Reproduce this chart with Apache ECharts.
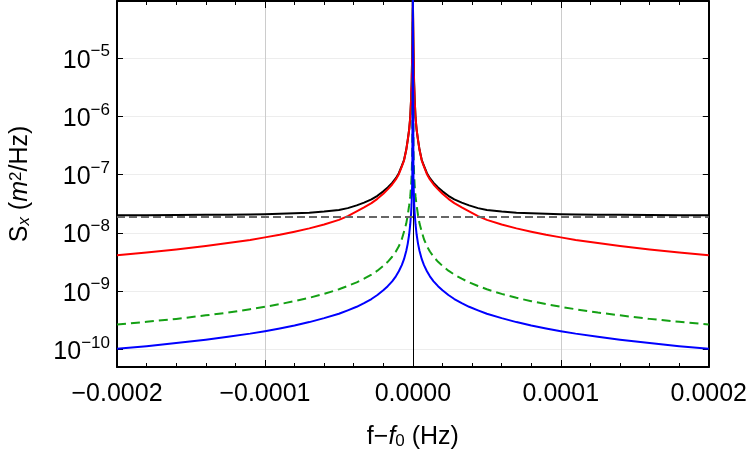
<!DOCTYPE html>
<html>
<head>
<meta charset="utf-8">
<script src="https://cdn.jsdelivr.net/npm/echarts@6/dist/echarts.min.js"></script>
<style>
	html, body { margin: 0; padding: 0; background: #fff; }
	#chart { width: 750px; height: 455px; }
</style>
</head>
<body>
<div id="chart"></div>
<script>
// f - f0 (Hz)
var freq = [
	-2e-4, -1.8e-4, -1.6e-4, -1.4e-4, -1.25e-4, -1.1e-4, -1e-4, -9e-5, -8e-5, -7e-5, -6e-5, -5e-5, -4.4e-5, -3.8e-5, -3.3e-5, -2.8e-5,
	-2.4e-5, -2e-5, -1.7e-5, -1.4e-5, -1.15e-5, -9.5e-6, -7.5e-6, -6e-6, -4.5e-6, -3.5e-6, -2.5e-6, -1.8e-6, -1.2e-6, -8e-7, -4e-7,
	0,
	4e-7, 8e-7, 1.2e-6, 1.8e-6, 2.5e-6, 3.5e-6, 4.5e-6, 6e-6, 7.5e-6, 9.5e-6, 1.15e-5, 1.4e-5, 1.7e-5, 2e-5, 2.4e-5,
	2.8e-5, 3.3e-5, 3.8e-5, 4.4e-5, 5e-5, 6e-5, 7e-5, 8e-5, 9e-5, 1e-4, 1.1e-4, 1.25e-4, 1.4e-4, 1.6e-4, 1.8e-4, 2e-4];

// S_x (m^2/Hz)
var sBlack = [
	2.01e-8, 2.02e-8, 2.03e-8, 2.05e-8, 2.06e-8, 2.08e-8, 2.1e-8, 2.13e-8, 2.17e-8, 2.23e-8, 2.33e-8, 2.48e-8, 2.67e-8, 2.98e-8, 3.32e-8, 3.77e-8,
	4.35e-8, 5.18e-8, 6.06e-8, 7.24e-8, 8.72e-8, 1.06e-7, 1.42e-7, 1.79e-7, 2.68e-7, 3.93e-7, 6.03e-7, 9.53e-7, 2e-6, 4e-6, 1.5e-5,
	1e-4,
	1.5e-5, 4e-6, 2e-6, 9.53e-7, 6.03e-7, 3.93e-7, 2.68e-7, 1.79e-7, 1.42e-7, 1.06e-7, 8.72e-8, 7.24e-8, 6.06e-8, 5.18e-8, 4.35e-8,
	3.77e-8, 3.32e-8, 2.98e-8, 2.67e-8, 2.48e-8, 2.33e-8, 2.23e-8, 2.17e-8, 2.13e-8, 2.1e-8, 2.08e-8, 2.06e-8, 2.05e-8, 2.03e-8, 2.02e-8, 2.01e-8];
var sRed = [
	4.14e-9, 4.6e-9, 5.2e-9, 5.95e-9, 6.7e-9, 7.6e-9, 8.4e-9, 9.3e-9, 1.05e-8, 1.2e-8, 1.4e-8, 1.68e-8, 1.95e-8, 2.35e-8, 2.75e-8, 3.25e-8,
	3.85e-8, 4.7e-8, 5.6e-8, 6.8e-8, 8.3e-8, 1.02e-7, 1.38e-7, 1.75e-7, 2.65e-7, 3.9e-7, 6e-7, 9.5e-7, 2e-6, 4e-6, 1.5e-5,
	1e-4,
	1.5e-5, 4e-6, 2e-6, 9.5e-7, 6e-7, 3.9e-7, 2.65e-7, 1.75e-7, 1.38e-7, 1.02e-7, 8.3e-8, 6.8e-8, 5.6e-8, 4.7e-8, 3.85e-8,
	3.25e-8, 2.75e-8, 2.35e-8, 1.95e-8, 1.68e-8, 1.4e-8, 1.2e-8, 1.05e-8, 9.3e-9, 8.4e-9, 7.6e-9, 6.7e-9, 5.95e-9, 5.2e-9, 4.6e-9, 4.14e-9];
var sGreen = [
	2.68e-10, 2.98e-10, 3.35e-10, 3.85e-10, 4.3e-10, 4.9e-10, 5.4e-10, 6e-10, 6.75e-10, 7.7e-10, 9e-10, 1.08e-9, 1.23e-9, 1.42e-9, 1.64e-9, 1.93e-9,
	2.25e-9, 2.72e-9, 3.2e-9, 3.9e-9, 4.8e-9, 5.9e-9, 7.8e-9, 1.05e-8, 1.45e-8, 2e-8, 3e-8, 4.2e-8, 6.5e-8, 1.05e-7, 2.5e-7,
	1e-4,
	2.5e-7, 1.05e-7, 6.5e-8, 4.2e-8, 3e-8, 2e-8, 1.45e-8, 1.05e-8, 7.8e-9, 5.9e-9, 4.8e-9, 3.9e-9, 3.2e-9, 2.72e-9, 2.25e-9,
	1.93e-9, 1.64e-9, 1.42e-9, 1.23e-9, 1.08e-9, 9e-10, 7.7e-10, 6.75e-10, 6e-10, 5.4e-10, 4.9e-10, 4.3e-10, 3.85e-10, 3.35e-10, 2.98e-10, 2.68e-10];
var sBlue = [
	1.03e-10, 1.14e-10, 1.29e-10, 1.47e-10, 1.65e-10, 1.87e-10, 2.06e-10, 2.29e-10, 2.58e-10, 2.95e-10, 3.45e-10, 4.1e-10, 4.7e-10, 5.4e-10, 6.25e-10, 7.35e-10,
	8.6e-10, 1.04e-9, 1.22e-9, 1.48e-9, 1.8e-9, 2.2e-9, 2.8e-9, 3.55e-9, 4.9e-9, 6.5e-9, 9.5e-9, 1.4e-8, 2.2e-8, 3.5e-8, 8e-8,
	1e-4,
	8e-8, 3.5e-8, 2.2e-8, 1.4e-8, 9.5e-9, 6.5e-9, 4.9e-9, 3.55e-9, 2.8e-9, 2.2e-9, 1.8e-9, 1.48e-9, 1.22e-9, 1.04e-9, 8.6e-10,
	7.35e-10, 6.25e-10, 5.4e-10, 4.7e-10, 4.1e-10, 3.45e-10, 2.95e-10, 2.58e-10, 2.29e-10, 2.06e-10, 1.87e-10, 1.65e-10, 1.47e-10, 1.29e-10, 1.14e-10, 1.03e-10];

// asymptote horizontale (tirets gris)
var floorFreq = [-2e-4, 2e-4];
var floorLevel = [1.88e-8, 1.88e-8];

var xTicks = [-2e-4, -1e-4, 0, 1e-4, 2e-4];
var yRange = [5e-11, 9.6e-5];

var FONT = '"Liberation Sans", Arial, sans-serif';

function pairs(xs, ys) {
	var out = [];
	for (var i = 0; i < xs.length; i++) {
		out.push([xs[i], ys[i]]);
	}
	return out;
}

function xLabel(v) {
	return v.toFixed(4).replace('-', '\u2212');
}

function yLabel(v) {
	var e = Math.round(Math.log(v) / Math.LN10);
	return '{b|10}{s|' + (e < 0 ? '\u2212' : '') + Math.abs(e) + '}';
}

function line(name, data, color, dash) {
	return {
		name : name,
		type : 'line',
		data : data,
		symbol : 'none',
		clip : true,
		lineStyle : {
			color : color,
			width : 2,
			type : dash ? dash : 'solid',
			join : 'round'
		}
	};
}

var chart = echarts.init(document.getElementById('chart'), null, { renderer : 'canvas' });

var xBase = {
	type : 'value',
	min : xTicks[0],
	max : xTicks[xTicks.length - 1],
	interval : 1e-4,
	axisLine : { show : true, onZero : false, lineStyle : { color : '#000', width : 2 } },
	axisTick : { show : true, inside : true, length : 7, lineStyle : { color : '#000', width : 1 } },
	minorTick : { show : true, splitNumber : 5, length : 4, lineStyle : { color : '#000', width : 1 } }
};

var yBase = {
	type : 'log',
	logBase : 10,
	min : yRange[0],
	max : yRange[1],
	axisLine : { show : true, onZero : false, lineStyle : { color : '#000', width : 2 } },
	axisTick : { show : true, inside : true, length : 6, lineStyle : { color : '#000', width : 1 } }
};

chart.setOption({
	animation : false,
	backgroundColor : '#fff',
	grid : { left : 115, right : 41, top : 1, bottom : 88 },
	xAxis : [ echarts.util.merge({
		position : 'bottom',
		name : 'f\u2212{i|f}{sub|0} (Hz)',
		nameLocation : 'middle',
		nameGap : 58,
		nameTextStyle : {
			fontFamily : FONT, fontSize : 25, color : '#000',
			rich : {
				i : { fontFamily : FONT, fontSize : 25, fontStyle : 'italic', color : '#000' },
				sub : { fontFamily : FONT, fontSize : 17, color : '#000', verticalAlign : 'bottom', lineHeight : 22 }
			}
		},
		axisLabel : { show : true, margin : 15, fontFamily : FONT, fontSize : 25, color : '#000', formatter : xLabel },
		splitLine : { show : true, lineStyle : { color : ['#ccc', '#ccc', '#000', '#ccc', '#ccc'], width : 1 } }
	}, xBase, true), echarts.util.merge({
		position : 'top',
		axisLabel : { show : false },
		splitLine : { show : false }
	}, xBase, true) ],
	yAxis : [ echarts.util.merge({
		position : 'left',
		name : 'S{sub|x} ({i|m}{sup|2}/Hz)',
		nameLocation : 'middle',
		nameGap : 84,
		nameTextStyle : {
			fontFamily : FONT, fontSize : 25, color : '#000',
			rich : {
				sub : { fontFamily : FONT, fontSize : 17, fontStyle : 'italic', color : '#000', verticalAlign : 'bottom', lineHeight : 22 },
				i : { fontFamily : FONT, fontSize : 25, fontStyle : 'italic', color : '#000' },
				sup : { fontFamily : FONT, fontSize : 17, color : '#000', verticalAlign : 'top', lineHeight : 18 }
			}
		},
		axisLabel : {
			show : true, margin : 7, showMinLabel : false, showMaxLabel : false,
			formatter : yLabel,
			rich : {
				b : { fontFamily : FONT, fontSize : 25, color : '#000', verticalAlign : 'bottom', lineHeight : 30 },
				s : { fontFamily : FONT, fontSize : 17, color : '#000', verticalAlign : 'top', lineHeight : 17 }
			}
		},
		splitLine : { show : true, lineStyle : { color : '#ededed', width : 1 } }
	}, yBase, true), echarts.util.merge({
		position : 'right',
		axisLabel : { show : false },
		splitLine : { show : false }
	}, yBase, true) ],
	series : [
		line('black', pairs(freq, sBlack), '#000000'),
		line('red', pairs(freq, sRed), '#ff0000'),
		line('green', pairs(freq, sGreen), '#14a014', [9, 5]),
		line('blue', pairs(freq, sBlue), '#0000ff'),
		line('floor', pairs(floorFreq, floorLevel), '#666666', [8, 4])
	]
});
</script>
</body>
</html>
